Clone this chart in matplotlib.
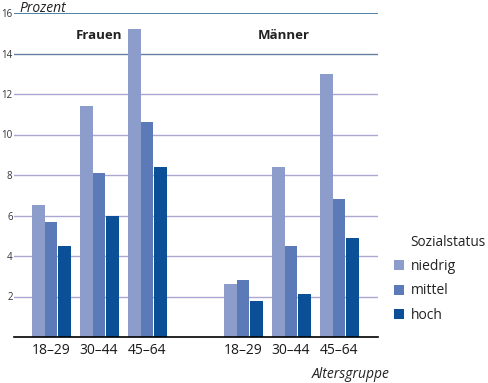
import numpy as np
import matplotlib.pyplot as plt
from matplotlib.patches import Patch

plt.rcParams['font.family'] = ['Open Sans', 'DejaVu Sans']

# data
age_groups = ['18–29', '30–44', '45–64']
status = ['niedrig', 'mittel', 'hoch']
frauen = {'niedrig': [6.5, 11.4, 15.2],
          'mittel': [5.7, 8.1, 10.6],
          'hoch': [4.5, 6.0, 8.4]}
maenner = {'niedrig': [2.6, 8.4, 13.0],
           'mittel': [2.8, 4.5, 6.8],
           'hoch': [1.8, 2.1, 4.9]}
yticks = [2, 4, 6, 8, 10, 12, 14, 16]

colors = {'niedrig': '#8c9dcb', 'mittel': '#5b7ab7', 'hoch': '#0b4f97'}

W, H = 488, 383
fig = plt.figure(figsize=(W / 100, H / 100), dpi=100)
ax = fig.add_axes([14 / W, 1 - 337 / H, (378 - 14) / W, (337 - 13) / H])

pos_f = np.array([0, 1, 2])
pos_m = np.array([4, 5, 6])
bw = 0.265
offsets = {'niedrig': -bw, 'mittel': 0.0, 'hoch': bw + 0.012}

for s in status:
    ax.bar(pos_f + offsets[s], frauen[s], width=bw, color=colors[s], zorder=3)
    ax.bar(pos_m + offsets[s], maenner[s], width=bw, color=colors[s], zorder=3)

ax.set_xlim(-0.77, 6.81)
ax.set_ylim(0, 16)

# gridlines: top one darker
for y in yticks:
    if y == 16:
        c, lw = '#1f5e8c', 1.1
    elif y == 14:
        c, lw = '#6580a0', 1.0
    else:
        c, lw = '#aaa7d0', 1.0
    ax.axhline(y, color=c, lw=lw, zorder=1)

ax.set_yticks(yticks)
ax.set_yticklabels([str(y) for y in yticks], fontsize=7, color='#333333')
ax.tick_params(axis='y', length=0, pad=1)
ax.set_xticks(np.concatenate([pos_f, pos_m]))
ax.set_xticklabels(age_groups + age_groups, fontsize=10, color='#1a1a1a')
ax.tick_params(axis='x', length=0, pad=4)

for side in ['top', 'right', 'left']:
    ax.spines[side].set_visible(False)
ax.spines['bottom'].set_color('black')
ax.spines['bottom'].set_linewidth(1.2)
ax.spines['bottom'].set_zorder(4)

ax.text(1, 14.9, 'Frauen', fontsize=9.5, fontweight='bold', ha='center', va='center', color='#222222')
ax.text(4.85, 14.9, 'Männer', fontsize=9.5, fontweight='bold', ha='center', va='center', color='#222222')

fig.text(19 / W, 1 - 8 / H, 'Prozent', fontsize=10, style='italic', va='center', ha='left', color='#222222')
fig.text(390 / W, 1 - 375 / H, 'Altersgruppe', fontsize=10, style='italic', va='center', ha='right', color='#222222')

# legend
fig.text(410 / W, 1 - 243 / H, 'Sozialstatus', fontsize=9.8, va='center', ha='left', color='#222222')
handles = [Patch(facecolor=colors[s], edgecolor='none') for s in status]
fig.legend(handles, status, loc='upper left', bbox_to_anchor=(394 / W, 1 - 259 / H),
           frameon=False, fontsize=10, handlelength=0.75, handleheight=0.75,
           handletextpad=0.45, labelspacing=0.68, borderpad=0, borderaxespad=0,
           labelcolor='#222222')

fig.savefig('out.png', dpi=100)
